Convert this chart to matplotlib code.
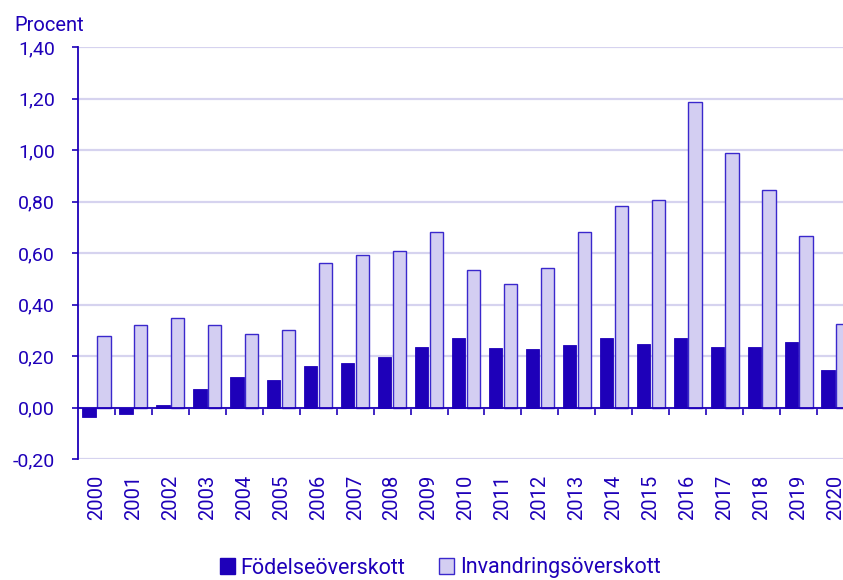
import numpy as np
import matplotlib
matplotlib.use("Agg")
import matplotlib.pyplot as plt
from matplotlib.patches import Patch

plt.rcParams["font.family"] = ["Roboto", "DejaVu Sans"]

# --------------- DATA -------------------------------------------------------
years = [str(y) for y in range(2000, 2021)]
fodelse = [-0.035, -0.027, 0.010, 0.070, 0.117, 0.108, 0.163, 0.172, 0.196,
           0.235, 0.270, 0.232, 0.226, 0.244, 0.270, 0.246, 0.270, 0.235,
           0.235, 0.253, 0.145]
invandring = [0.277, 0.322, 0.349, 0.320, 0.284, 0.300, 0.561, 0.593, 0.608,
              0.680, 0.534, 0.481, 0.540, 0.680, 0.783, 0.804, 1.188, 0.988,
              0.846, 0.665, 0.324]
yticks = [-0.2, 0.0, 0.2, 0.4, 0.6, 0.8, 1.0, 1.2, 1.4]

# --------------- STYLE ------------------------------------------------------
DARK  = "#1E00B9"
LIGHT = "#D3CEF2"
EDGE  = "#3A28CC"
GRID  = "#D6D3EF"
TXT   = "#1E00B9"

fig = plt.figure(figsize=(8.43, 5.80), dpi=100)
# plot area runs past the right edge, as in the reference (2020 is cut off)
ax = fig.add_axes([78 / 843, 1 - 459 / 580, 776 / 843, 412 / 580])

x = np.arange(len(years))
w = 0.36
ax.bar(x - 0.2, fodelse, w, color=DARK, edgecolor=DARK, linewidth=0.6, zorder=3)
ax.bar(x + 0.2, invandring, w, color=LIGHT, edgecolor=EDGE, linewidth=1.0, zorder=3)

ax.set_xlim(-0.5, len(years) - 0.5)
ax.set_ylim(-0.2, 1.4)

# y axis
ax.set_yticks(yticks)
ax.set_yticklabels([f"{v:.2f}".replace(".", ",") for v in yticks])
ax.yaxis.grid(True, color=GRID, linewidth=1.6, zorder=0)
ax.tick_params(axis="y", colors=TXT, labelcolor=TXT, length=4.5, width=1.2,
               pad=12, labelsize=14)
ax.spines["left"].set_color(DARK)
ax.spines["left"].set_linewidth(1.3)
for s in ["top", "right"]:
    ax.spines[s].set_visible(False)

# zero line with group boundary ticks
ax.spines["bottom"].set_position(("data", 0))
ax.spines["bottom"].set_color(DARK)
ax.spines["bottom"].set_linewidth(1.3)
ax.spines["bottom"].set_zorder(4)
ax.set_xticks(x[:-1] + 0.5)
ax.set_xticklabels([])
ax.tick_params(axis="x", colors=DARK, length=5, width=1.2)

# year labels along the bottom
sec = ax.secondary_xaxis("bottom")
sec.set_xticks(x)
sec.set_xticklabels(years, rotation=90)
sec.tick_params(length=0, pad=11, labelsize=14.5, labelcolor=TXT)
sec.spines["bottom"].set_visible(False)

fig.text(14 / 843, 1 - 31 / 580, "Procent", color=TXT, fontsize=14.5,
         ha="left", va="baseline")

handles = [Patch(facecolor=DARK, edgecolor=DARK),
           Patch(facecolor=LIGHT, edgecolor=EDGE)]
fig.legend(handles, ["Födelseöverskott", "Invandringsöverskott"],
           loc="center", bbox_to_anchor=(440 / 843, 1 - 568 / 580), ncol=2,
           frameon=False, fontsize=15.5, labelcolor=TXT, handlelength=0.7,
           handleheight=0.7, handletextpad=0.25, columnspacing=1.6,
           borderpad=0, borderaxespad=0)

fig.savefig("out.png", dpi=100)
